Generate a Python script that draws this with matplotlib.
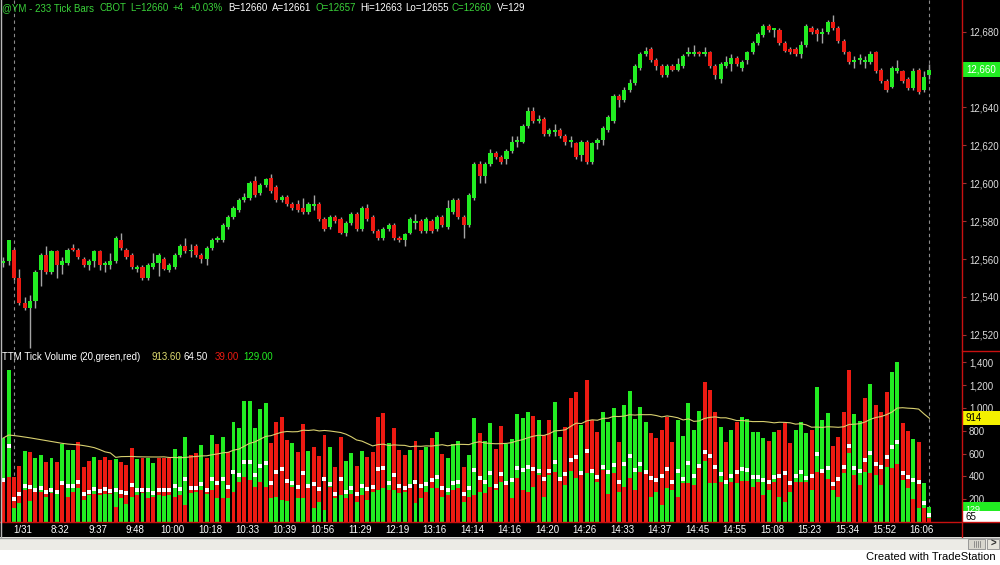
import matplotlib
matplotlib.use('Agg')
import matplotlib.pyplot as plt
import numpy as np
import pandas as pd
from matplotlib.patches import Rectangle
from matplotlib.lines import Line2D

plt.rcParams['font.family'] = ['Liberation Sans', 'DejaVu Sans']

# ---- price bars (233 tick bars, YM) ----
opens = [12558, 12559, 12565, 12550, 12537, 12534, 12538, 12554, 12562, 12553,
         12564, 12557, 12558, 12566, 12565, 12560, 12557, 12559, 12564, 12557,
         12557, 12559, 12570, 12565, 12562, 12555, 12556, 12550, 12556, 12558,
         12560, 12554, 12556, 12562, 12567, 12564, 12567, 12562, 12560, 12566,
         12570, 12570, 12577, 12582, 12586, 12591, 12592, 12601, 12595, 12599,
         12603, 12598, 12591, 12593, 12589, 12589, 12587, 12585, 12588, 12589,
         12581, 12577, 12582, 12581, 12574, 12579, 12584, 12576, 12587, 12582,
         12575, 12571, 12576, 12578, 12571, 12570, 12574, 12579, 12580, 12575,
         12580, 12576, 12582, 12577, 12585, 12591, 12582, 12578, 12592, 12610,
         12604, 12610, 12616, 12614, 12613, 12617, 12622, 12622, 12630, 12638,
         12633, 12634, 12626, 12627, 12628, 12625, 12622, 12621, 12615, 12622,
         12611, 12621, 12623, 12628, 12633, 12646, 12644, 12649, 12653, 12661,
         12668, 12671, 12665, 12662, 12657, 12662, 12660, 12662, 12668, 12668,
         12669, 12668, 12669, 12662, 12655, 12662, 12663, 12666, 12661, 12665,
         12669, 12674, 12678, 12683, 12681, 12681, 12674, 12671, 12671, 12668,
         12673, 12682, 12681, 12679, 12680, 12685, 12682, 12675, 12669, 12664,
         12665, 12664, 12664, 12669, 12660, 12654, 12651, 12659, 12659, 12655,
         12650, 12660, 12649, 12657]
highs = [12561, 12570, 12566, 12555, 12540, 12541, 12554, 12563, 12567, 12565,
         12565, 12561, 12566, 12568, 12566, 12561, 12560, 12565, 12565, 12559,
         12563, 12572, 12574, 12566, 12563, 12557, 12557, 12558, 12563, 12563,
         12561, 12558, 12563, 12568, 12571, 12568, 12568, 12563, 12567, 12571,
         12572, 12579, 12583, 12588, 12592, 12595, 12601, 12604, 12600, 12603,
         12605, 12599, 12594, 12594, 12590, 12591, 12592, 12590, 12594, 12590,
         12582, 12583, 12583, 12582, 12580, 12585, 12585, 12588, 12589, 12583,
         12576, 12577, 12579, 12579, 12572, 12574, 12582, 12584, 12581, 12582,
         12581, 12583, 12583, 12591, 12592, 12592, 12583, 12595, 12611, 12612,
         12611, 12618, 12617, 12615, 12618, 12625, 12625, 12631, 12640, 12640,
         12636, 12635, 12629, 12631, 12629, 12626, 12625, 12622, 12623, 12623,
         12622, 12624, 12630, 12636, 12647, 12647, 12651, 12655, 12663, 12669,
         12672, 12672, 12666, 12663, 12663, 12663, 12666, 12668, 12672, 12673,
         12670, 12672, 12670, 12663, 12664, 12667, 12668, 12667, 12665, 12670,
         12675, 12680, 12684, 12684, 12682, 12682, 12675, 12672, 12672, 12675,
         12684, 12683, 12682, 12682, 12686, 12689, 12683, 12676, 12670, 12667,
         12668, 12667, 12670, 12670, 12661, 12655, 12662, 12665, 12660, 12656,
         12661, 12661, 12659, 12663]
lows = [12556, 12557, 12549, 12536, 12533, 12513, 12534, 12546, 12552, 12552,
        12550, 12552, 12557, 12564, 12560, 12556, 12554, 12556, 12554, 12553,
        12555, 12558, 12565, 12560, 12555, 12553, 12549, 12549, 12555, 12551,
        12554, 12553, 12555, 12561, 12563, 12561, 12561, 12558, 12557, 12565,
        12569, 12569, 12576, 12581, 12585, 12590, 12591, 12593, 12594, 12598,
        12595, 12590, 12590, 12588, 12586, 12585, 12584, 12584, 12586, 12580,
        12575, 12576, 12579, 12573, 12572, 12578, 12575, 12575, 12580, 12574,
        12570, 12570, 12575, 12570, 12569, 12567, 12573, 12576, 12574, 12574,
        12574, 12575, 12577, 12576, 12584, 12581, 12571, 12577, 12591, 12600,
        12600, 12609, 12613, 12610, 12610, 12616, 12619, 12621, 12629, 12632,
        12632, 12625, 12625, 12625, 12624, 12620, 12619, 12613, 12612, 12610,
        12610, 12618, 12620, 12627, 12632, 12640, 12643, 12648, 12652, 12660,
        12667, 12664, 12660, 12656, 12656, 12659, 12659, 12661, 12667, 12667,
        12667, 12667, 12661, 12655, 12653, 12661, 12659, 12662, 12659, 12663,
        12668, 12673, 12677, 12680, 12677, 12673, 12669, 12668, 12667, 12666,
        12672, 12679, 12675, 12674, 12679, 12681, 12674, 12668, 12663, 12661,
        12663, 12661, 12663, 12658, 12653, 12648, 12650, 12658, 12653, 12649,
        12649, 12647, 12648, 12655]
closes = [12559, 12570, 12550, 12537, 12534, 12538, 12553, 12562, 12553, 12564,
          12557, 12559, 12565, 12565, 12561, 12557, 12559, 12564, 12557, 12558,
          12559, 12571, 12566, 12561, 12556, 12556, 12550, 12557, 12558, 12562,
          12555, 12557, 12562, 12567, 12564, 12565, 12562, 12560, 12566, 12570,
          12571, 12578, 12582, 12587, 12591, 12593, 12600, 12594, 12599, 12602,
          12596, 12591, 12593, 12589, 12587, 12586, 12585, 12589, 12589, 12581,
          12576, 12582, 12580, 12574, 12579, 12584, 12576, 12587, 12581, 12575,
          12571, 12576, 12578, 12571, 12570, 12573, 12581, 12580, 12575, 12581,
          12575, 12582, 12578, 12587, 12591, 12582, 12578, 12594, 12610, 12604,
          12610, 12616, 12614, 12611, 12617, 12622, 12623, 12630, 12638, 12633,
          12634, 12626, 12628, 12628, 12625, 12622, 12623, 12614, 12622, 12611,
          12621, 12623, 12629, 12635, 12646, 12644, 12649, 12653, 12662, 12668,
          12670, 12665, 12662, 12657, 12662, 12660, 12663, 12667, 12669, 12669,
          12668, 12669, 12662, 12657, 12663, 12664, 12666, 12663, 12664, 12669,
          12674, 12679, 12683, 12681, 12681, 12674, 12670, 12669, 12668, 12673,
          12683, 12680, 12679, 12680, 12685, 12682, 12675, 12669, 12664, 12665,
          12666, 12665, 12668, 12659, 12654, 12649, 12661, 12661, 12654, 12650,
          12659, 12648, 12656, 12660]

# ---- TTM tick volume: total, smaller side, which side dominates ----
vol_total = [734, 1333, 398, 491, 623, 611, 564, 588, 523, 558,
             529, 681, 632, 632, 699, 485, 535, 573, 544, 573,
             544, 553, 529, 500, 646, 553, 558, 564, 515, 558,
             558, 564, 640, 582, 749, 588, 602, 675, 558, 763,
             681, 749, 617, 880, 828, 1061, 1061, 822, 991, 1041,
             690, 880, 924, 719, 690, 617, 857, 623, 661, 582,
             763, 661, 485, 749, 535, 602, 494, 623, 573, 617,
             924, 953, 690, 828, 632, 588, 632, 710, 632, 661,
             734, 787, 594, 558, 681, 710, 485, 588, 910, 778,
             710, 866, 640, 845, 681, 728, 944, 910, 968, 933,
             895, 763, 895, 1050, 749, 836, 1085, 1143, 851, 1246,
             895, 792, 962, 880, 1003, 699, 1026, 1149, 904, 1012,
             880, 778, 734, 807, 924, 705, 895, 757, 1041, 807,
             974, 1225, 1158, 962, 836, 705, 807, 880, 924, 904,
             787, 787, 740, 710, 792, 807, 866, 690, 807, 880,
             778, 807, 1187, 895, 953, 670, 749, 968, 1333, 944,
             886, 1085, 1208, 1026, 962, 1137, 1313, 1401, 866, 798,
             728, 699, 339, 129]
vol_minor = [355, 398, 126, 164, 281, 187, 266, 266, 222, 252,
             243, 325, 222, 266, 295, 193, 237, 243, 237, 243,
             243, 134, 208, 155, 222, 237, 252, 208, 222, 237,
             231, 237, 222, 237, 149, 252, 266, 281, 243, 281,
             208, 208, 208, 266, 354, 398, 369, 310, 354, 310,
             208, 222, 193, 184, 310, 208, 208, 295, 120, 178,
             105, 310, 208, 237, 208, 243, 178, 237, 193, 266,
             281, 295, 281, 281, 252, 266, 310, 164, 208, 266,
             295, 301, 222, 237, 281, 295, 178, 222, 237, 266,
             252, 310, 281, 354, 339, 214, 383, 281, 266, 310,
             412, 222, 412, 442, 360, 325, 447, 389, 412, 427,
             427, 354, 456, 243, 427, 266, 310, 389, 281, 442,
             420, 222, 266, 149, 295, 281, 222, 339, 339, 325,
             470, 535, 339, 339, 354, 339, 354, 339, 360, 360,
             310, 354, 237, 281, 354, 222, 178, 266, 354, 354,
             354, 281, 442, 442, 377, 281, 222, 427, 602, 412,
             325, 442, 427, 412, 325, 485, 476, 506, 368, 301,
             202, 120, 120, 39]
vol_side = ("ggrrgrggrg" "rgggrrrgrr" "rgrrrgrggr" "rrgggrrgrg" "rgrggggggg"
            "rrrrgrrgrr" "rgrrggrgrr" "rrgrrrgrrg" "rgrgggrggr" "ggrrgggggr"
            "grrggrrrgr" "rrgggrgggg" "grrrrrgggg" "grrrgrgrgg" "gggrgrrrgg"
            "grgggrrrrg" "grgrrrggrr" "grgg")
# average line values before 20 bars are available on screen
ma_head = [737, 763, 758, 752, 745, 738, 730, 722, 714, 706,
           698, 690, 684, 680, 677, 670, 662, 652, 635]

# values shown in the indicator header
vol_avg_last = 913.60
vol_half_last = 64.50
vol_down_last = 39.00
vol_last = 129.00

time_ticks = [2 + 7 * k for k in range(25)]
time_labels = ['1/31', '8:32', '9:37', '9:48', '10:00', '10:18', '10:33', '10:39',
               '10:56', '11:29', '12:19', '13:16', '14:14', '14:16', '14:20', '14:26',
               '14:33', '14:37', '14:45', '14:55', '15:08', '15:23', '15:34', '15:52',
               '16:06']
price_ticks = [12520, 12540, 12560, 12580, 12600, 12620, 12640, 12660, 12680]
vol_ticks = [200, 400, 600, 800, 1000, 1200, 1400]

GREEN = '#22ec22'
RED = '#ec1a12'
W, H = 1000, 565


def fy(py):
    return 1 - py / H


fig = plt.figure(figsize=(10, 5.65), dpi=100, facecolor='black')
PR = 962 / W
ax = fig.add_axes([0, fy(350), PR, 350 / H], facecolor='black')
axv = fig.add_axes([0, fy(522), PR, 170 / H], facecolor='black')

n = len(closes)
x = np.arange(n)
o = np.array(opens)
c = np.array(closes)
ccol = np.where(c >= o, GREEN, RED)

ax.vlines(x, lows, highs, color='#a4a4a4', lw=1, zorder=2)
ax.bar(x, np.maximum(np.abs(c - o), 0.9), bottom=np.minimum(o, c), width=0.78,
       color=ccol, lw=0, zorder=3)

tot = np.array(vol_total, dtype=float)
mnr = np.array(vol_minor, dtype=float)
top_col = [GREEN if s == 'g' else RED for s in vol_side]
low_col = [RED if s == 'g' else GREEN for s in vol_side]
axv.bar(x, mnr, width=0.74, color=low_col, lw=0, zorder=2)
axv.bar(x, tot - mnr, bottom=mnr, width=0.74, color=top_col, lw=0, zorder=2)
axv.scatter(x, tot / 2, marker='s', s=5, color='white', lw=0, zorder=4)
ma = pd.Series(tot).rolling(20).mean().to_numpy()
ma[:len(ma_head)] = ma_head
axv.plot(x, ma, color='#d8d070', lw=0.8, zorder=3)

for a in (ax, axv):
    a.set_xlim(-0.62, 179.1)
    for s in a.spines.values():
        s.set_visible(False)
    a.axvline(2, color='#8a8a8a', lw=0.8, ls=(0, (3, 3)), zorder=1)
    a.axvline(173, color='#8a8a8a', lw=0.8, ls=(0, (3, 3)), zorder=1)
    a.yaxis.tick_right()
    a.tick_params(axis='y', colors='#dcdcdc', labelsize=7, length=3, pad=2)
    a.tick_params(axis='y', color='#a03030')

ax.set_ylim(12512, 12696.7)
ax.set_yticks(price_ticks)
ax.set_yticklabels(['' if t == 12660 else f'{t:,}' for t in price_ticks])
ax.set_xticks([])

axv.set_ylim(0, 1491)
axv.set_yticks(vol_ticks)
axv.set_yticklabels([f'{t:,}' for t in vol_ticks])
axv.set_xticks(np.array(time_ticks) + 1.6)
axv.set_xticklabels(time_labels)
axv.tick_params(axis='x', colors='white', labelsize=7, length=0, pad=2)

# right strip value boxes
axs = fig.add_axes([PR, fy(350), 1 - PR, 350 / H], facecolor='none')
axs.set_ylim(ax.get_ylim())
axs.set_xlim(0, 1)
axs.axis('off')
axs.add_patch(Rectangle((0.03, closes[-1] - 3.8), 0.97, 7.6, fc=GREEN, ec='none'))
axs.text(0.5, closes[-1], f'{closes[-1]:,}', color='white', fontsize=7,
         ha='center', va='center')

axsv = fig.add_axes([PR, fy(522), 1 - PR, 170 / H], facecolor='none')
axsv.set_ylim(axv.get_ylim())
axsv.set_xlim(0, 1)
axsv.axis('off')
axsv.add_patch(Rectangle((0.03, vol_avg_last - 60), 0.97, 120, fc='#f4f000', ec='none'))
axsv.text(0.1, vol_avg_last, f'{int(vol_avg_last + 0.5)}', color='black', fontsize=7,
          va='center')
axsv.add_patch(Rectangle((0.03, vol_last - 45), 0.97, 90, fc=GREEN, ec='none'))
axsv.text(0.1, vol_last - 15, f'{int(vol_last)}', color='white', fontsize=6.5, va='center')
axsv.add_patch(Rectangle((0.03, vol_half_last - 75), 0.97, 110, fc='white', ec='none',
                         clip_on=False))
axsv.text(0.1, vol_half_last - 22, f'{int(vol_half_last + 0.5)}', color='black',
          fontsize=7, va='center')

# frame lines
fig.add_artist(Line2D([PR, PR], [fy(537), 1], color='#c81010', lw=1))
fig.add_artist(Line2D([0, 1], [fy(522), fy(522)], color='#c81010', lw=1))
fig.add_artist(Line2D([PR, 1], [fy(351), fy(351)], color='#c81010', lw=1))
fig.add_artist(Line2D([0.0008, 0.0008], [fy(537), 1], color='#b8b8b8', lw=1))

# header texts
hdr = [(2, '@YM - 233 Tick Bars', '#3ad23a'), (100, 'CBOT', '#3ad23a'),
       (130, 'L=12660', '#3ad23a'), (173, '+4', '#3ad23a'), (190, '+0.03%', '#3ad23a'),
       (228, 'B=12660', 'white'), (272, 'A=12661', 'white'), (315, 'O=12657', '#3ad23a'),
       (360, 'Hi=12663', 'white'), (405, 'Lo=12655', 'white'), (452, 'C=12660', '#3ad23a'),
       (497, 'V=129', 'white')]
for px, s, col in hdr:
    fig.text(px / W, fy(8), s, color=col, fontsize=7, va='center')
vhdr = [(2, 'TTM Tick Volume', 'white'), (79, '(20,green,red)', 'white'),
        (152, f'{vol_avg_last:.2f}', '#e0dc70'), (184, f'{vol_half_last:.2f}', 'white'),
        (215, f'{vol_down_last:.2f}', RED), (243, f'{vol_last:.2f}', GREEN)]
for px, s, col in vhdr:
    fig.text(px / W, fy(357), s, color=col, fontsize=7, va='center')

# bottom strips
fig.patches.append(Rectangle((0, fy(537) - 13 / H), 1, 13 / H, transform=fig.transFigure,
                             fc='#ecebe6', ec='none'))
fig.patches.append(Rectangle((0, 0), 1, fy(550), transform=fig.transFigure,
                             fc='white', ec='none'))
fig.add_artist(Line2D([0, 1], [fy(537.5), fy(537.5)], color='#a0a0a0', lw=1))
fig.patches.append(Rectangle((968 / W, fy(549)), 17 / W, 10 / H, transform=fig.transFigure,
                             fc='#d8d6ce', ec='#8c8c8c', lw=0.6))
for gx in (974, 976, 978, 980):
    fig.add_artist(Line2D([gx / W, gx / W], [fy(547), fy(541)], color='#707070', lw=0.5))
fig.patches.append(Rectangle((987 / W, fy(549)), 12 / W, 10 / H, transform=fig.transFigure,
                             fc='#e6e4dc', ec='#8c8c8c', lw=0.6))
fig.text(993 / W, fy(544), '>', color='#303030', fontsize=7, ha='center', va='center',
         fontweight='bold')
fig.text(996 / W, fy(557), 'Created with TradeStation', color='black', fontsize=8,
         ha='right', va='center')

fig.savefig('out.png', dpi=100, facecolor='black')
